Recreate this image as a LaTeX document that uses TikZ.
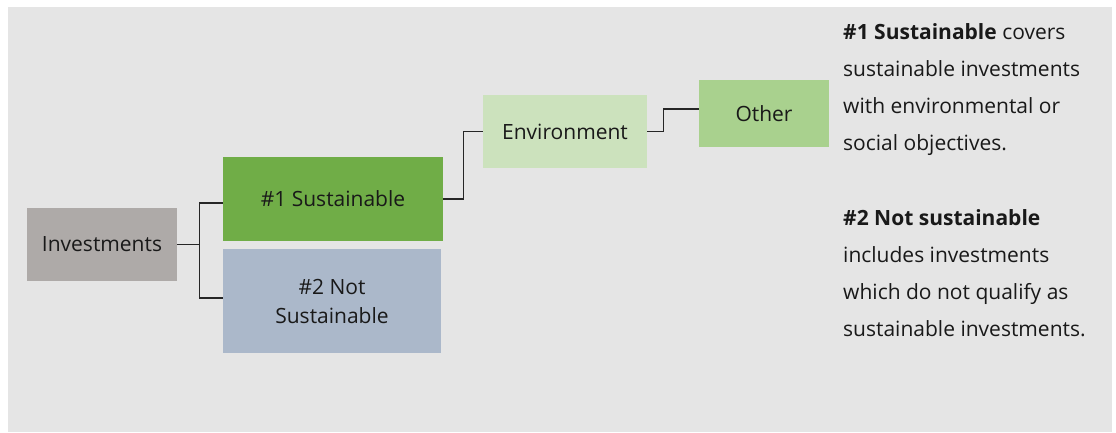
\documentclass[tikz,border=0pt]{standalone}
\usepackage{fontspec}
\setmainfont{Open Sans}
\definecolor{panelgray}{HTML}{E5E5E5}
\definecolor{invgray}{HTML}{AEAAA8}
\definecolor{sustgreen}{HTML}{70AD47}
\definecolor{notblue}{HTML}{ABB8CA}
\definecolor{envgreen}{HTML}{CCE2BD}
\definecolor{othgreen}{HTML}{A9D18E}
\begin{document}
\begin{tikzpicture}[x=1pt, y=-1pt,
        box/.style={inner sep=0pt, align=center, text=black!90, font=\fontsize{21}{29}\selectfont},
        note/.style={anchor=north west, inner sep=0pt, align=left, text=black!90, font=\fontsize{21}{37}\selectfont},
        link/.style={line width=1.2pt, black!85}]
        \useasboundingbox (0,0) rectangle (1116,432);
        % grey panel
        \fill[panelgray] (8,7) rectangle (1112,432);

        % boxes
        \node[box, fill=invgray,   minimum width=150pt, minimum height=73pt]  (inv)     at (102,244.5) {Investments};
        \node[box, fill=sustgreen, minimum width=220pt, minimum height=84pt]  (sust)    at (333,199)   {\#1 Sustainable};
        \node[box, fill=notblue,   minimum width=218pt, minimum height=104pt] (notsust) at (332,301)   {\#2 Not\\Sustainable};
        \node[box, fill=envgreen,  minimum width=164pt, minimum height=73pt]  (env)     at (565,131.5) {Environment};
        \node[box, fill=othgreen,  minimum width=130pt, minimum height=67pt]  (other)   at (764,113.5) {Other};

        % connectors
        \draw[link] (inv.east) -- ++(22,0) |- ([yshift=-4pt]sust.west);
        \draw[link] (inv.east) -- ++(22,0) |- ([yshift=3pt]notsust.west);
        \draw[link] (sust.east) -- ++(20,0) |- (env.west);
        \draw[link] (env.east) -- ++(16,0) |- ([yshift=4.5pt]other.west);

        % explanations
        \node[note] (desc1) at (843,23)
              {\textbf{\#1 Sustainable} covers\\ sustainable investments\\ with environmental or\\ social objectives.};
        \node[note] (desc2) at (843,209.5)
              {\textbf{\#2 Not sustainable}\\ includes investments\\ which do not qualify as\\ sustainable investments.};
    \end{tikzpicture}
\end{document}
